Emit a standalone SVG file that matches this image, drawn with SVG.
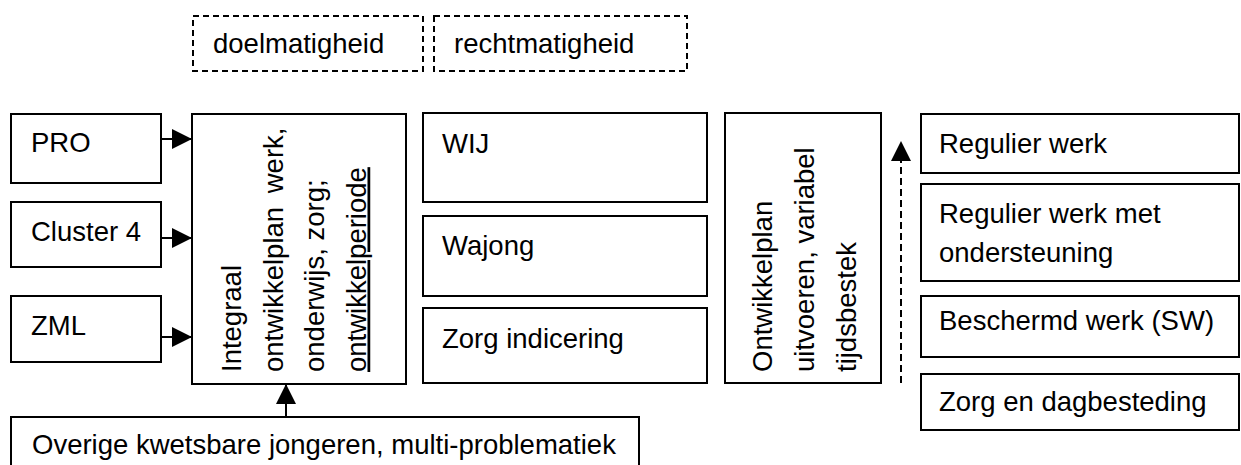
<svg xmlns="http://www.w3.org/2000/svg" width="1241" height="465" viewBox="0 0 1241 465">
<style>
.box{fill:#fff;stroke:#000;stroke-width:2}
.dbox{fill:#fff;stroke:#000;stroke-width:2;stroke-dasharray:6 4}
.t{font-family:"Liberation Sans",Arial,sans-serif;font-size:27.5px;fill:#000}
.c{stroke:#000;stroke-width:2;fill:none}
.dc{stroke:#000;stroke-width:2;fill:none;stroke-dasharray:7 4}
</style>
<defs>
<marker id="ah" markerUnits="userSpaceOnUse" markerWidth="20" markerHeight="20" refX="20" refY="10" orient="auto" viewBox="0 0 20 20">
<path d="M0,0 L20,10 L0,20 z" fill="#000"/>
</marker>
</defs>
<rect width="1241" height="465" fill="#fff"/>
<g id="doelmatigheid">
<rect class="dbox" x="193" y="16" width="230" height="55"/>
<text class="t" x="213" y="53">doelmatigheid</text>
</g>
<g id="rechtmatigheid">
<rect class="dbox" x="434" y="16" width="253" height="55"/>
<text class="t" x="454" y="53">rechtmatigheid</text>
</g>
<g id="pro">
<rect class="box" x="11" y="114" width="150" height="69"/>
<text class="t" x="31" y="152">PRO</text>
</g>
<g id="cluster4">
<rect class="box" x="11" y="202" width="150" height="65"/>
<text class="t" x="31" y="241">Cluster 4</text>
</g>
<g id="zml">
<rect class="box" x="11" y="296" width="150" height="66"/>
<text class="t" x="31" y="335">ZML</text>
</g>
<g id="integraal">
<rect class="box" x="192" y="114" width="214" height="270"/>
<text class="t" transform="translate(241,372) rotate(-90)"><tspan x="0" y="0">Integraal</tspan><tspan x="0" y="41.5" word-spacing="6">ontwikkelplan werk,</tspan><tspan x="0" y="83">onderwijs, zorg;</tspan><tspan x="0" y="124.5" text-decoration="underline">ontwikkelperiode</tspan></text>
</g>
<g id="wij">
<rect class="box" x="423" y="113" width="284" height="89"/>
<text class="t" x="442" y="153">WIJ</text>
</g>
<g id="wajong">
<rect class="box" x="423" y="216" width="284" height="80"/>
<text class="t" x="442" y="255">Wajong</text>
</g>
<g id="zorgindicering">
<rect class="box" x="423" y="308" width="284" height="75"/>
<text class="t" x="442" y="348">Zorg indicering</text>
</g>
<g id="ontwikkelplan">
<rect class="box" x="725" y="113" width="156" height="270"/>
<text class="t" transform="translate(772,372) rotate(-90)"><tspan x="0" y="0">Ontwikkelplan</tspan><tspan x="0" y="42">uitvoeren, variabel</tspan><tspan x="0" y="84">tijdsbestek</tspan></text>
</g>
<g id="regulierwerk">
<rect class="box" x="921" y="114" width="318" height="59"/>
<text class="t" x="939" y="153">Regulier werk</text>
</g>
<g id="regulierwerkmet">
<rect class="box" x="921" y="184" width="318" height="97"/>
<text class="t" x="939" y="223">Regulier werk met</text>
<text class="t" x="939" y="262">ondersteuning</text>
</g>
<g id="beschermd">
<rect class="box" x="921" y="296" width="318" height="61"/>
<text class="t" x="939" y="330">Beschermd werk (SW)</text>
</g>
<g id="zorgdag">
<rect class="box" x="921" y="374" width="318" height="56"/>
<text class="t" x="939" y="411">Zorg en dagbesteding</text>
</g>
<g id="overige">
<rect class="box" x="11" y="417" width="628" height="60"/>
<text class="t" x="32" y="454">Overige kwetsbare jongeren, multi-problematiek</text>
</g>
<g id="connectors">
<line class="c" x1="161" y1="139" x2="192" y2="139" marker-end="url(#ah)"/>
<line class="c" x1="161" y1="238" x2="192" y2="238" marker-end="url(#ah)"/>
<line class="c" x1="161" y1="337" x2="192" y2="337" marker-end="url(#ah)"/>
<line class="c" x1="286" y1="417" x2="286" y2="384" marker-end="url(#ah)"/>
<line class="dc" x1="901" y1="383" x2="901" y2="141" marker-end="url(#ah)"/>
</g>
</svg>
